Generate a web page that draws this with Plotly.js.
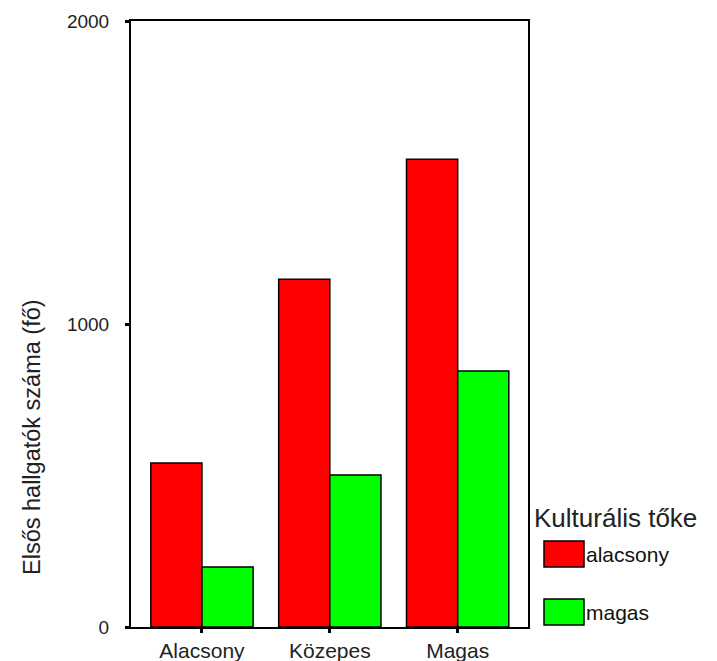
<!DOCTYPE html>
<html>
<head>
<meta charset="utf-8">
<script src="https://cdn.plot.ly/plotly-3.0.1.min.js"></script>
<style>html,body{margin:0;padding:0;background:#fff;}#chart{width:717px;height:661px;}</style>
</head>
<body>
<div id="chart"></div>
<script>
const categories = ["Alacsony", "Közepes", "Magas"];
const seriesNames = ["alacsony", "magas"];
const alacsonyValues = [541, 1148, 1544];
const magasValues = [198, 502, 845];
const yTicks = [0, 1000, 2000];
const yTitle = "Elsős hallgatók száma (fő)";
const legendTitle = "Kulturális tőke";
const colors = ["#ff0000", "#00ff00"];

const font = "Liberation Sans, Arial, sans-serif";
const traces = [alacsonyValues, magasValues].map((vals, i) => ({
  type: "bar",
  x: categories,
  y: vals,
  name: seriesNames[i],
  marker: {color: colors[i], line: {color: "#000", width: 1.5}},
  showlegend: false,
  hoverinfo: "x+y+name"
}));

// custom legend (swatches + labels) in paper coordinates
const shapes = [];
const annotations = [];
const legY = [541, 599];
seriesNames.forEach((n, i) => {
  shapes.push({type: "rect", xref: "paper", yref: "paper",
    x0: (544 - 131) / 397, x1: (584 - 131) / 397,
    y0: (627 - legY[i]) / 606, y1: (627 - legY[i] - 26) / 606,
    fillcolor: colors[i], line: {color: "#000", width: 1.5}});
  annotations.push({xref: "paper", yref: "paper", x: (584 - 131) / 397,
    y: (627 - legY[i] - 13) / 606, xanchor: "left", yanchor: "middle",
    text: n, showarrow: false, font: {family: font, size: 21, color: "#111"}});
});
annotations.push({xref: "paper", yref: "paper", x: (532 - 131) / 397,
  y: (627 - 518) / 606, xanchor: "left", yanchor: "middle", text: legendTitle,
  showarrow: false, font: {family: font, size: 26, color: "#222"}});
annotations.push({xref: "paper", yref: "paper", x: (32 - 131) / 397,
  y: (627 - 437) / 606, xanchor: "center", yanchor: "middle", textangle: -90,
  text: yTitle, showarrow: false, font: {family: font, size: 23.5, color: "#222"}});

const layout = {
  width: 717, height: 661,
  margin: {l: 131, r: 189, t: 21, b: 34, pad: 0},
  paper_bgcolor: "#fff", plot_bgcolor: "#fff",
  barmode: "group", bargap: 0.2, bargroupgap: 0,
  showlegend: false,
  font: {family: font, color: "#222"},
  xaxis: {
    type: "category", range: [-0.555, 2.55],
    showline: true, mirror: true, linecolor: "#000", linewidth: 2,
    showgrid: false, zeroline: false,
    ticks: "outside", ticklen: 4, tickwidth: 3, tickcolor: "#000",
    ticklabelstandoff: 0,
    tickfont: {family: font, size: 21, color: "#222"}
  },
  yaxis: {
    range: [0, 2000], tickvals: yTicks, ticktext: yTicks.map(String),
    showline: true, mirror: true, linecolor: "#000", linewidth: 2,
    showgrid: false, zeroline: false,
    ticks: "outside", ticklen: 4, tickwidth: 3, tickcolor: "#000",
    ticklabelstandoff: 12,
    tickfont: {family: font, size: 19, color: "#222"}
  },
  shapes: shapes,
  annotations: annotations
};
Plotly.newPlot("chart", traces, layout, {displayModeBar: false, staticPlot: true});
</script>
</body>
</html>
